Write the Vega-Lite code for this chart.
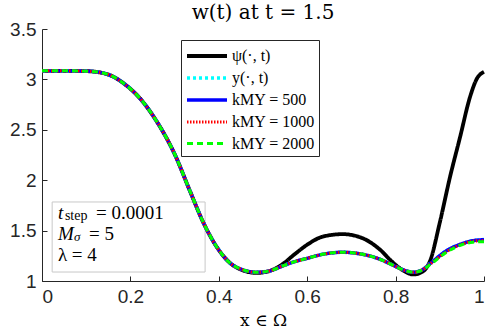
{
  "$schema": "https://vega.github.io/schema/vega-lite/v6.json",
  "width": 442,
  "height": 252,
  "autosize": {"type": "none"},
  "padding": {"left": 42, "top": 29, "right": 2, "bottom": 54},
  "background": "white",
  "title": {"text": "w(t) at t = 1.5", "anchor": "middle", "frame": "group"},
  "config": {
    "view": {"stroke": null},
    "title": {"font": "DejaVu Serif", "fontSize": 20, "fontWeight": "normal", "color": "black", "offset": -3},
    "axis": {"domainColor": "#262626", "tickColor": "#262626", "labelColor": "#262626", "labelFont": "Liberation Sans", "labelFontSize": 19, "grid": false, "tickSize": -5, "labelPadding": 11, "titleFont": "DejaVu Serif", "titleFontSize": 17, "titleColor": "black", "titleFontWeight": "normal"},
    "legend": {"orient": "none", "legendX": 139, "legendY": 11, "strokeColor": "#262626", "fillColor": "white", "padding": 4, "symbolType": "M-1,0H3", "symbolSize": 400, "labelFont": "Liberation Serif", "labelFontSize": 16, "labelColor": "black", "rowPadding": 2, "labelOffset": 23}
  },
  "datasets": {
    "curves": [
      {"s":"psi","x":0,"v":3.085},{"s":"psi","x":0.05,"v":3.085},{"s":"psi","x":0.1,"v":3.082},{"s":"psi","x":0.13,"v":3.07},{"s":"psi","x":0.16,"v":3.03},{"s":"psi","x":0.185,"v":2.96},{"s":"psi","x":0.22,"v":2.82},{"s":"psi","x":0.26,"v":2.58},{"s":"psi","x":0.3,"v":2.26},{"s":"psi","x":0.335,"v":1.89},{"s":"psi","x":0.365,"v":1.58},{"s":"psi","x":0.395,"v":1.34},{"s":"psi","x":0.425,"v":1.18},{"s":"psi","x":0.455,"v":1.105},{"s":"psi","x":0.485,"v":1.08},{"s":"psi","x":0.515,"v":1.1},{"s":"psi","x":0.545,"v":1.17},{"s":"psi","x":0.57,"v":1.26},{"s":"psi","x":0.6,"v":1.36},{"s":"psi","x":0.635,"v":1.44},{"s":"psi","x":0.68,"v":1.465},{"s":"psi","x":0.725,"v":1.425},{"s":"psi","x":0.765,"v":1.31},{"s":"psi","x":0.79,"v":1.2},{"s":"psi","x":0.815,"v":1.11},{"s":"psi","x":0.84,"v":1.065},{"s":"psi","x":0.86,"v":1.09},{"s":"psi","x":0.878,"v":1.2},{"s":"psi","x":0.9,"v":1.58},{"s":"psi","x":0.923,"v":2.03},{"s":"psi","x":0.946,"v":2.43},{"s":"psi","x":0.968,"v":2.82},{"s":"psi","x":0.983,"v":3.0},{"s":"psi","x":1.0,"v":3.075},

      {"s":"y","x":0,"v":3.085},{"s":"y","x":0.05,"v":3.085},{"s":"y","x":0.1,"v":3.082},{"s":"y","x":0.13,"v":3.07},{"s":"y","x":0.16,"v":3.03},{"s":"y","x":0.185,"v":2.96},{"s":"y","x":0.22,"v":2.82},{"s":"y","x":0.26,"v":2.58},{"s":"y","x":0.3,"v":2.26},{"s":"y","x":0.335,"v":1.89},{"s":"y","x":0.365,"v":1.58},{"s":"y","x":0.395,"v":1.34},{"s":"y","x":0.425,"v":1.18},{"s":"y","x":0.455,"v":1.11},{"s":"y","x":0.485,"v":1.087},{"s":"y","x":0.515,"v":1.1},{"s":"y","x":0.545,"v":1.15},{"s":"y","x":0.57,"v":1.19},{"s":"y","x":0.6,"v":1.225},{"s":"y","x":0.635,"v":1.265},{"s":"y","x":0.68,"v":1.285},{"s":"y","x":0.725,"v":1.265},{"s":"y","x":0.765,"v":1.215},{"s":"y","x":0.79,"v":1.165},{"s":"y","x":0.815,"v":1.115},{"s":"y","x":0.84,"v":1.087},{"s":"y","x":0.86,"v":1.11},{"s":"y","x":0.88,"v":1.18},{"s":"y","x":0.915,"v":1.3},{"s":"y","x":0.95,"v":1.37},{"s":"y","x":0.975,"v":1.4},{"s":"y","x":1.0,"v":1.41},

      {"s":"k500","x":0,"v":3.085},{"s":"k500","x":0.05,"v":3.085},{"s":"k500","x":0.1,"v":3.082},{"s":"k500","x":0.13,"v":3.07},{"s":"k500","x":0.16,"v":3.03},{"s":"k500","x":0.185,"v":2.96},{"s":"k500","x":0.22,"v":2.82},{"s":"k500","x":0.26,"v":2.58},{"s":"k500","x":0.3,"v":2.26},{"s":"k500","x":0.335,"v":1.89},{"s":"k500","x":0.365,"v":1.58},{"s":"k500","x":0.395,"v":1.34},{"s":"k500","x":0.425,"v":1.18},{"s":"k500","x":0.455,"v":1.11},{"s":"k500","x":0.485,"v":1.087},{"s":"k500","x":0.515,"v":1.1},{"s":"k500","x":0.545,"v":1.15},{"s":"k500","x":0.57,"v":1.19},{"s":"k500","x":0.6,"v":1.225},{"s":"k500","x":0.635,"v":1.265},{"s":"k500","x":0.68,"v":1.285},{"s":"k500","x":0.725,"v":1.265},{"s":"k500","x":0.765,"v":1.215},{"s":"k500","x":0.79,"v":1.165},{"s":"k500","x":0.815,"v":1.115},{"s":"k500","x":0.84,"v":1.087},{"s":"k500","x":0.86,"v":1.11},{"s":"k500","x":0.88,"v":1.18},{"s":"k500","x":0.915,"v":1.3},{"s":"k500","x":0.95,"v":1.37},{"s":"k500","x":0.975,"v":1.4},{"s":"k500","x":1.0,"v":1.41},

      {"s":"k1000","x":0,"v":3.085},{"s":"k1000","x":0.05,"v":3.085},{"s":"k1000","x":0.1,"v":3.082},{"s":"k1000","x":0.13,"v":3.07},{"s":"k1000","x":0.16,"v":3.03},{"s":"k1000","x":0.185,"v":2.96},{"s":"k1000","x":0.22,"v":2.82},{"s":"k1000","x":0.26,"v":2.58},{"s":"k1000","x":0.3,"v":2.26},{"s":"k1000","x":0.335,"v":1.89},{"s":"k1000","x":0.365,"v":1.58},{"s":"k1000","x":0.395,"v":1.34},{"s":"k1000","x":0.425,"v":1.18},{"s":"k1000","x":0.455,"v":1.11},{"s":"k1000","x":0.485,"v":1.087},{"s":"k1000","x":0.515,"v":1.1},{"s":"k1000","x":0.545,"v":1.15},{"s":"k1000","x":0.57,"v":1.19},{"s":"k1000","x":0.6,"v":1.225},{"s":"k1000","x":0.635,"v":1.265},{"s":"k1000","x":0.68,"v":1.285},{"s":"k1000","x":0.725,"v":1.265},{"s":"k1000","x":0.765,"v":1.215},{"s":"k1000","x":0.79,"v":1.165},{"s":"k1000","x":0.815,"v":1.115},{"s":"k1000","x":0.84,"v":1.087},{"s":"k1000","x":0.86,"v":1.11},{"s":"k1000","x":0.88,"v":1.175},{"s":"k1000","x":0.915,"v":1.29},{"s":"k1000","x":0.95,"v":1.365},{"s":"k1000","x":0.975,"v":1.395},{"s":"k1000","x":1.0,"v":1.4},

      {"s":"k2000","x":0,"v":3.085},{"s":"k2000","x":0.05,"v":3.085},{"s":"k2000","x":0.1,"v":3.082},{"s":"k2000","x":0.13,"v":3.07},{"s":"k2000","x":0.16,"v":3.03},{"s":"k2000","x":0.185,"v":2.96},{"s":"k2000","x":0.22,"v":2.82},{"s":"k2000","x":0.26,"v":2.58},{"s":"k2000","x":0.3,"v":2.26},{"s":"k2000","x":0.335,"v":1.89},{"s":"k2000","x":0.365,"v":1.58},{"s":"k2000","x":0.395,"v":1.34},{"s":"k2000","x":0.425,"v":1.18},{"s":"k2000","x":0.455,"v":1.11},{"s":"k2000","x":0.485,"v":1.087},{"s":"k2000","x":0.515,"v":1.1},{"s":"k2000","x":0.545,"v":1.15},{"s":"k2000","x":0.57,"v":1.19},{"s":"k2000","x":0.6,"v":1.225},{"s":"k2000","x":0.635,"v":1.265},{"s":"k2000","x":0.68,"v":1.285},{"s":"k2000","x":0.725,"v":1.265},{"s":"k2000","x":0.765,"v":1.215},{"s":"k2000","x":0.79,"v":1.165},{"s":"k2000","x":0.815,"v":1.115},{"s":"k2000","x":0.84,"v":1.087},{"s":"k2000","x":0.86,"v":1.108},{"s":"k2000","x":0.88,"v":1.17},{"s":"k2000","x":0.915,"v":1.285},{"s":"k2000","x":0.95,"v":1.36},{"s":"k2000","x":0.975,"v":1.385},{"s":"k2000","x":1.0,"v":1.39}
    ],
    "note": [{"l1": "= 0.0001", "l2": "= 5", "l3": "λ = 4"}]
  },
  "layer": [
    {
      "data": {"name": "note"},
      "mark": {"type": "rect", "fill": "white", "stroke": "#c8c8c8", "strokeWidth": 1},
      "encoding": {
        "x": {"datum": 0.023, "type": "quantitative", "scale": {"domain": [0, 1], "nice": false}},
        "x2": {"datum": 0.369},
        "y": {"datum": 1.089, "type": "quantitative", "scale": {"domain": [1, 3.5], "nice": false}},
        "y2": {"datum": 1.784}
      }
    },
    {
      "data": {"name": "curves"},
      "mark": {"type": "line", "interpolate": "monotone"},
      "encoding": {
        "x": {"field": "x", "type": "quantitative", "scale": {"domain": [0, 1], "nice": false},
              "axis": {"values": [0, 0.2, 0.4, 0.6, 0.8, 1], "format": "~g", "title": "x ∈ Ω", "titlePadding": 6}},
        "y": {"field": "v", "type": "quantitative", "scale": {"domain": [1, 3.5], "nice": false},
              "axis": {"values": [1, 1.5, 2, 2.5, 3, 3.5], "format": "~g", "title": null}},
        "color": {"field": "s", "type": "nominal",
                  "scale": {"domain": ["psi", "y", "k500", "k1000", "k2000"], "range": ["#000000", "#00ffff", "#0000ff", "#ff0000", "#00ff00"]},
                  "legend": {"title": null, "labelExpr": "{'psi': 'ψ(·, t)', 'y': 'y(·, t)', 'k500': 'kMY = 500', 'k1000': 'kMY = 1000', 'k2000': 'kMY = 2000'}[datum.label]"}},
        "strokeDash": {"field": "s", "type": "nominal",
                       "scale": {"domain": ["psi", "y", "k500", "k1000", "k2000"], "range": [[1, 0], [3, 3], [1, 0], [1.5, 1.5], [6, 4]]},
                       "legend": {"title": null, "labelExpr": "{'psi': 'ψ(·, t)', 'y': 'y(·, t)', 'k500': 'kMY = 500', 'k1000': 'kMY = 1000', 'k2000': 'kMY = 2000'}[datum.label]"}},
        "strokeWidth": {"field": "s", "type": "nominal",
                        "scale": {"domain": ["psi", "y", "k500", "k1000", "k2000"], "range": [3.8, 3, 2, 2, 2.5]},
                        "legend": {"title": null, "labelExpr": "{'psi': 'ψ(·, t)', 'y': 'y(·, t)', 'k500': 'kMY = 500', 'k1000': 'kMY = 1000', 'k2000': 'kMY = 2000'}[datum.label]"}}
      }
    },
    {
      "data": {"name": "note"},
      "mark": {"type": "text", "align": "left", "baseline": "middle", "font": "Liberation Serif", "fontStyle": "italic", "fontSize": 19, "color": "black"},
      "encoding": {"x": {"datum": 0.036}, "y": {"datum": 1.675}, "text": {"value": "t"}}
    },
    {
      "data": {"name": "note"},
      "mark": {"type": "text", "align": "left", "baseline": "middle", "font": "Liberation Serif", "fontSize": 14, "dx": 7, "dy": 3, "color": "black"},
      "encoding": {"x": {"datum": 0.036}, "y": {"datum": 1.675}, "text": {"value": "step"}}
    },
    {
      "data": {"name": "note"},
      "mark": {"type": "text", "align": "left", "baseline": "middle", "font": "Liberation Serif", "fontSize": 19, "dx": 38, "color": "black"},
      "encoding": {"x": {"datum": 0.036}, "y": {"datum": 1.675}, "text": {"field": "l1"}}
    },
    {
      "data": {"name": "note"},
      "mark": {"type": "text", "align": "left", "baseline": "middle", "font": "Liberation Serif", "fontStyle": "italic", "fontSize": 19, "color": "black"},
      "encoding": {"x": {"datum": 0.036}, "y": {"datum": 1.466}, "text": {"value": "M"}}
    },
    {
      "data": {"name": "note"},
      "mark": {"type": "text", "align": "left", "baseline": "middle", "font": "Liberation Serif", "fontStyle": "italic", "fontSize": 13, "dx": 16, "dy": 3, "color": "black"},
      "encoding": {"x": {"datum": 0.036}, "y": {"datum": 1.466}, "text": {"value": "σ"}}
    },
    {
      "data": {"name": "note"},
      "mark": {"type": "text", "align": "left", "baseline": "middle", "font": "Liberation Serif", "fontSize": 19, "dx": 31, "color": "black"},
      "encoding": {"x": {"datum": 0.036}, "y": {"datum": 1.466}, "text": {"field": "l2"}}
    },
    {
      "data": {"name": "note"},
      "mark": {"type": "text", "align": "left", "baseline": "middle", "font": "Liberation Serif", "fontSize": 19, "color": "black"},
      "encoding": {"x": {"datum": 0.036}, "y": {"datum": 1.258}, "text": {"field": "l3"}}
    }
  ]
}
